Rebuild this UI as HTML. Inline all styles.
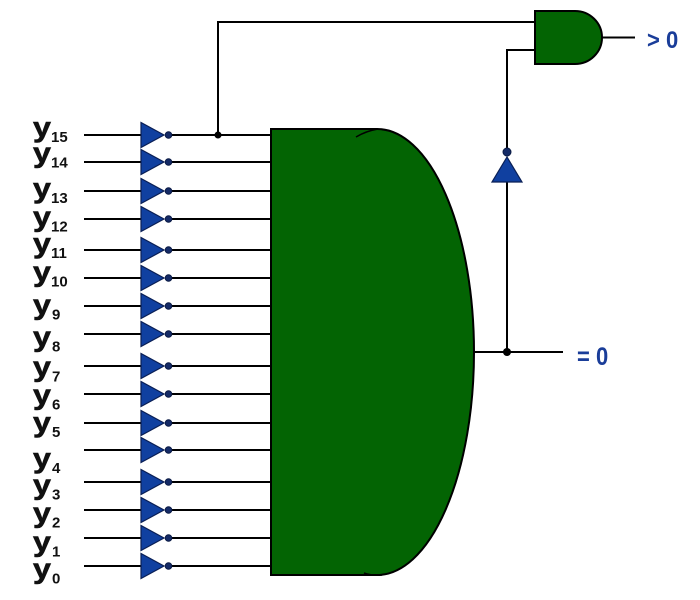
<!DOCTYPE html>
<html>
<head>
<meta charset="utf-8">
<style>
  html, body { margin: 0; padding: 0; background: #ffffff; }
  svg { display: block; }
  .lbl { font-family: "Liberation Sans", Arial, sans-serif; font-weight: bold; fill: #111; }
  .yy { stroke: #111; stroke-width: 0.6; }
  .blue { font-family: "Liberation Sans", Arial, sans-serif; font-weight: bold; fill: #1a3d99; }
</style>
</head>
<body>
<svg width="700" height="600" viewBox="0 0 700 600" xmlns="http://www.w3.org/2000/svg">
  <rect width="700" height="600" fill="#ffffff"/>

  <!-- Top feedback wire from y15 to AND gate -->
  <polyline points="218,135 218,22 535,22" fill="none" stroke="#000" stroke-width="2"/>
  <!-- Wire from = 0 output up to inverter and AND gate -->
  <line x1="507" y1="352" x2="507" y2="182" stroke="#000" stroke-width="2"/>
  <polyline points="507,148 507,50 535,50" fill="none" stroke="#000" stroke-width="2"/>

  <!-- Input wires -->
  <g stroke="#000" stroke-width="2">
    <line x1="84" y1="135" x2="141" y2="135"/><line x1="172" y1="135" x2="271" y2="135"/>
    <line x1="84" y1="162" x2="141" y2="162"/><line x1="172" y1="162" x2="271" y2="162"/>
    <line x1="84" y1="191" x2="141" y2="191"/><line x1="172" y1="191" x2="271" y2="191"/>
    <line x1="84" y1="219" x2="141" y2="219"/><line x1="172" y1="219" x2="271" y2="219"/>
    <line x1="84" y1="250" x2="141" y2="250"/><line x1="172" y1="250" x2="271" y2="250"/>
    <line x1="84" y1="278" x2="141" y2="278"/><line x1="172" y1="278" x2="271" y2="278"/>
    <line x1="84" y1="306" x2="141" y2="306"/><line x1="172" y1="306" x2="271" y2="306"/>
    <line x1="84" y1="334" x2="141" y2="334"/><line x1="172" y1="334" x2="271" y2="334"/>
    <line x1="84" y1="366" x2="141" y2="366"/><line x1="172" y1="366" x2="271" y2="366"/>
    <line x1="84" y1="394" x2="141" y2="394"/><line x1="172" y1="394" x2="271" y2="394"/>
    <line x1="84" y1="423" x2="141" y2="423"/><line x1="172" y1="423" x2="271" y2="423"/>
    <line x1="84" y1="450" x2="141" y2="450"/><line x1="172" y1="450" x2="271" y2="450"/>
    <line x1="84" y1="482" x2="141" y2="482"/><line x1="172" y1="482" x2="271" y2="482"/>
    <line x1="84" y1="510" x2="141" y2="510"/><line x1="172" y1="510" x2="271" y2="510"/>
    <line x1="84" y1="538" x2="141" y2="538"/><line x1="172" y1="538" x2="271" y2="538"/>
    <line x1="84" y1="566" x2="141" y2="566"/><line x1="172" y1="566" x2="271" y2="566"/>
  </g>

  <g fill="#1040a0" stroke="#0a1f55" stroke-width="1.2">
    <polygon points="141,122.5 141,147.5 164,135"/>
    <polygon points="141,149.5 141,174.5 164,162"/>
    <polygon points="141,178.5 141,203.5 164,191"/>
    <polygon points="141,206.5 141,231.5 164,219"/>
    <polygon points="141,237.5 141,262.5 164,250"/>
    <polygon points="141,265.5 141,290.5 164,278"/>
    <polygon points="141,293.5 141,318.5 164,306"/>
    <polygon points="141,321.5 141,346.5 164,334"/>
    <polygon points="141,353.5 141,378.5 164,366"/>
    <polygon points="141,381.5 141,406.5 164,394"/>
    <polygon points="141,410.5 141,435.5 164,423"/>
    <polygon points="141,437.5 141,462.5 164,450"/>
    <polygon points="141,469.5 141,494.5 164,482"/>
    <polygon points="141,497.5 141,522.5 164,510"/>
    <polygon points="141,525.5 141,550.5 164,538"/>
    <polygon points="141,553.5 141,578.5 164,566"/>
  </g>
  <g fill="#142a66" stroke="#0a1a44" stroke-width="1">
    <circle cx="168.5" cy="135" r="3.3"/>
    <circle cx="168.5" cy="162" r="3.3"/>
    <circle cx="168.5" cy="191" r="3.3"/>
    <circle cx="168.5" cy="219" r="3.3"/>
    <circle cx="168.5" cy="250" r="3.3"/>
    <circle cx="168.5" cy="278" r="3.3"/>
    <circle cx="168.5" cy="306" r="3.3"/>
    <circle cx="168.5" cy="334" r="3.3"/>
    <circle cx="168.5" cy="366" r="3.3"/>
    <circle cx="168.5" cy="394" r="3.3"/>
    <circle cx="168.5" cy="423" r="3.3"/>
    <circle cx="168.5" cy="450" r="3.3"/>
    <circle cx="168.5" cy="482" r="3.3"/>
    <circle cx="168.5" cy="510" r="3.3"/>
    <circle cx="168.5" cy="538" r="3.3"/>
    <circle cx="168.5" cy="566" r="3.3"/>
  </g>

  <!-- Junction on y15 line -->
  <circle cx="218" cy="135" r="3.5" fill="#000"/>

  <!-- Big gate -->
  <path d="M271,129 L377,129 A97,223 0 0 1 377,575 L271,575 Z" fill="#036403" stroke="#000" stroke-width="2"/>
  <path d="M356,137 Q366,131 378,129" fill="none" stroke="#000" stroke-width="1.5"/>
  <path d="M364,573 Q372,576 382,575" fill="none" stroke="#000" stroke-width="1.5"/>

  <!-- Output = 0 -->
  <line x1="474" y1="352" x2="563" y2="352" stroke="#000" stroke-width="2"/>
  <circle cx="507" cy="352" r="4" fill="#000"/>

  <!-- Upward inverter -->
  <polygon points="492,182 522,182 507,157" fill="#1040a0" stroke="#0a1f55" stroke-width="1.2"/>
  <circle cx="507" cy="152" r="4" fill="#142a66" stroke="#0a1a44" stroke-width="1"/>

  <!-- AND gate -->
  <path d="M535,11 L575,11 A27,26.5 0 0 1 575,64 L535,64 Z" fill="#036403" stroke="#000" stroke-width="2"/>
  <line x1="602" y1="37.5" x2="635" y2="37.5" stroke="#000" stroke-width="2"/>

  <!-- Blue labels -->
  <text class="blue" font-size="22" transform="translate(647,48) scale(1,1.1)">&gt; 0</text>
  <text class="blue" font-size="22" transform="translate(577,365) scale(1,1.15)">= 0</text>

  <!-- Input labels -->
  <g class="lbl">
    <text class="yy" font-size="28" transform="translate(33,136.5) scale(1.15,1)">y</text><text x="51" y="142" font-size="15">15</text>
    <text class="yy" font-size="28" transform="translate(33,162) scale(1.15,1)">y</text><text x="51" y="167.5" font-size="15">14</text>
    <text class="yy" font-size="28" transform="translate(33,197.5) scale(1.15,1)">y</text><text x="51" y="203" font-size="15">13</text>
    <text class="yy" font-size="28" transform="translate(33,226) scale(1.15,1)">y</text><text x="51" y="231.5" font-size="15">12</text>
    <text class="yy" font-size="28" transform="translate(33,252.5) scale(1.15,1)">y</text><text x="51" y="258" font-size="15">11</text>
    <text class="yy" font-size="28" transform="translate(33,281) scale(1.15,1)">y</text><text x="51" y="286.5" font-size="15">10</text>
    <text class="yy" font-size="28" transform="translate(33,314) scale(1.15,1)">y</text><text x="52" y="319.5" font-size="15">9</text>
    <text class="yy" font-size="28" transform="translate(33,346) scale(1.15,1)">y</text><text x="52" y="351.5" font-size="15">8</text>
    <text class="yy" font-size="28" transform="translate(33,376) scale(1.15,1)">y</text><text x="52" y="381.5" font-size="15">7</text>
    <text class="yy" font-size="28" transform="translate(33,404) scale(1.15,1)">y</text><text x="52" y="409.5" font-size="15">6</text>
    <text class="yy" font-size="28" transform="translate(33,431.5) scale(1.15,1)">y</text><text x="52" y="437" font-size="15">5</text>
    <text class="yy" font-size="28" transform="translate(33,467.5) scale(1.15,1)">y</text><text x="52" y="473" font-size="15">4</text>
    <text class="yy" font-size="28" transform="translate(33,494) scale(1.15,1)">y</text><text x="52" y="499.5" font-size="15">3</text>
    <text class="yy" font-size="28" transform="translate(33,522) scale(1.15,1)">y</text><text x="52" y="527.5" font-size="15">2</text>
    <text class="yy" font-size="28" transform="translate(33,551) scale(1.15,1)">y</text><text x="52" y="556.5" font-size="15">1</text>
    <text class="yy" font-size="28" transform="translate(33,578) scale(1.15,1)">y</text><text x="52" y="583.5" font-size="15">0</text>
  </g>
</svg>
</body>
</html>
